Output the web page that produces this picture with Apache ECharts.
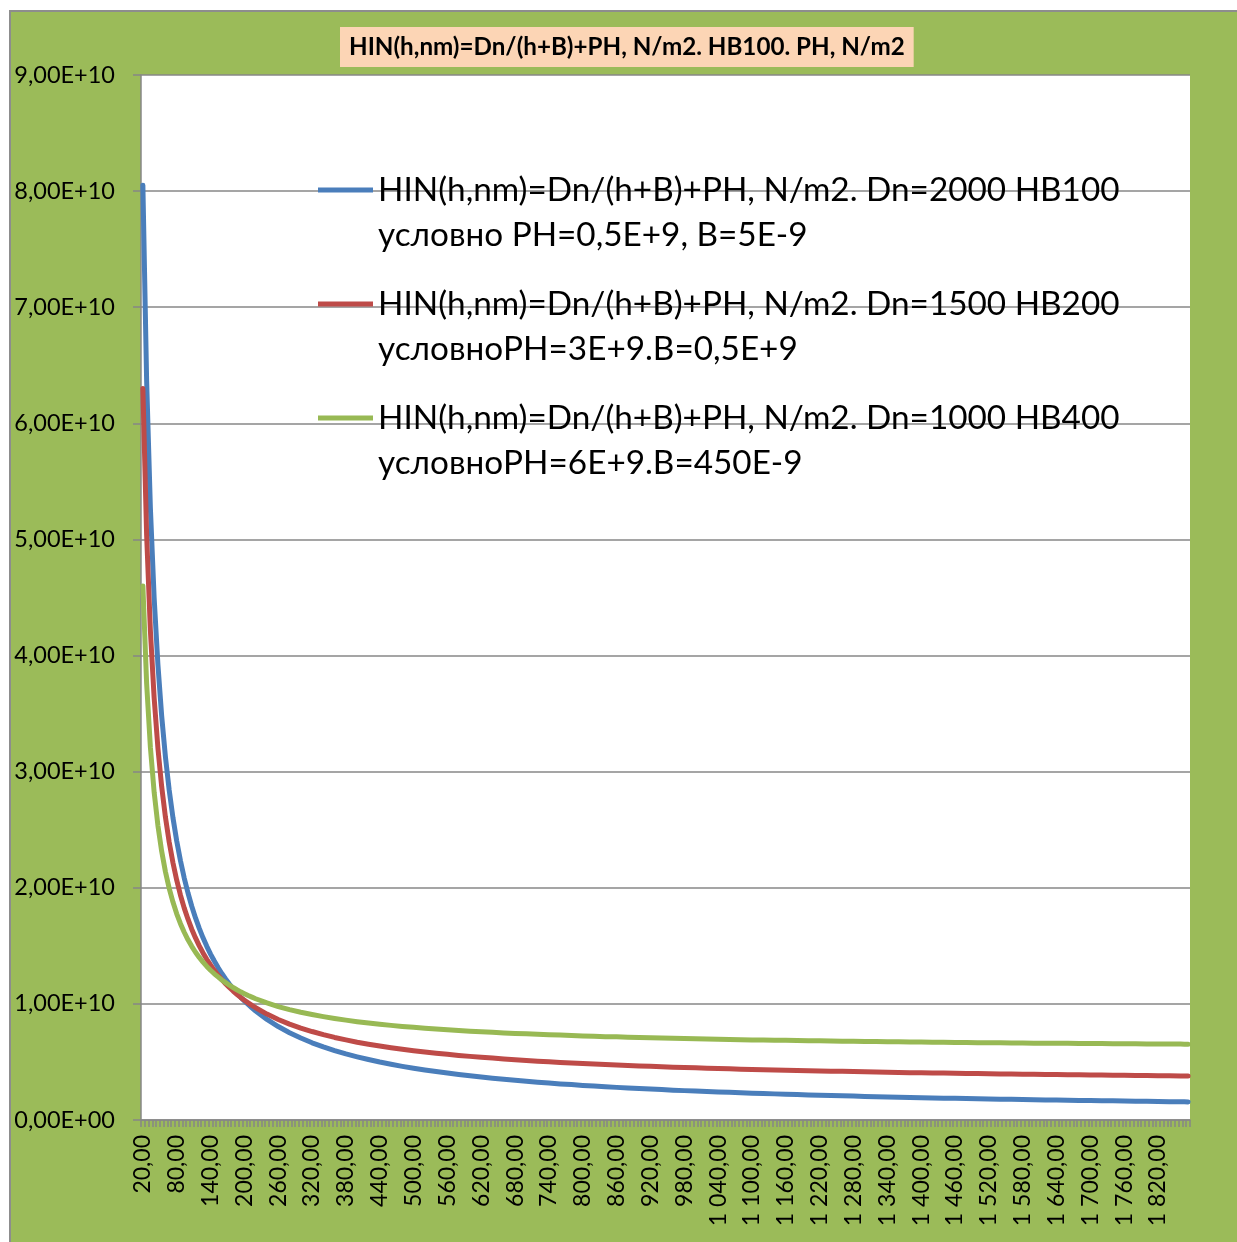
<!DOCTYPE html>
<html>
<head>
<meta charset="utf-8">
<script src="https://cdn.jsdelivr.net/npm/echarts@6/dist/echarts.min.js"></script>
<style>
html,body{margin:0;padding:0;background:#fff;}
#chart{width:1237px;height:1242px;}
</style>
</head>
<body>
<div id="chart"></div>
<script>
// Category axis: h, nm  (first = 20, step 20/3, 279 categories; labels every 9th)
const categoryCount = 279;
const firstH = 20;
const stepH = 20 / 3;
const tickLabels = ['20,00','80,00','140,00','200,00','260,00','320,00','380,00','440,00','500,00','560,00','620,00','680,00','740,00','800,00','860,00','920,00','980,00','1 040,00','1 100,00','1 160,00','1 220,00','1 280,00','1 340,00','1 400,00','1 460,00','1 520,00','1 580,00','1 640,00','1 700,00','1 760,00','1 820,00'];

// h values (nm) at which the curves were read
const sampleH = [20, 26.67, 33.33, 40, 46.67, 53.33, 60, 66.67, 73.33, 80, 86.67, 93.33, 100, 106.67, 113.33, 120, 126.67, 133.33, 140, 146.67, 153.33, 160, 166.67, 173.33, 180, 186.67, 193.33, 200, 206.67, 213.33, 220,
240,260,280,300,320,340,360,380,400,420,440,460,480,500,520,540,560,580,600,620,640,660,680,700,720,740,760,780,800,820,840,860,880,900,920,940,960,980,1000,1020,1040,1060,1080,1100,1120,1140,1160,1180,1200,1220,1240,1260,1280,1300,1320,1340,1360,1380,1400,1420,1440,1460,1480,1500,1520,1540,1560,1580,1600,1620,1640,1660,1680,1700,1720,1740,1760,1780,1800,1820,1840,1860,
1866.67, 1873.33];

// Values in units of 1E+9 N/m2
const blueValues = [80.50, 63.66, 52.67, 44.94, 39.21, 34.79, 31.27, 28.41, 26.03, 24.03, 22.32, 20.84, 19.55, 18.41, 17.40, 16.50, 15.69, 14.96, 14.29, 13.69, 13.13, 12.62, 12.15, 11.71, 11.31, 10.93, 10.58, 10.26, 9.95, 9.66, 9.39,
8.66, 8.05, 7.52, 7.06, 6.65, 6.30, 5.98, 5.69, 5.44, 5.21,
4.99, 4.80, 4.62, 4.46, 4.31, 4.17, 4.04, 3.92, 3.81, 3.70,
3.60, 3.51, 3.42, 3.34, 3.26, 3.18, 3.11, 3.05, 2.98, 2.92,
2.87, 2.81, 2.76, 2.71, 2.66, 2.62, 2.57, 2.53, 2.49, 2.45,
2.41, 2.38, 2.34, 2.31, 2.28, 2.25, 2.22, 2.19, 2.16, 2.13,
2.11, 2.08, 2.06, 2.03, 2.01, 1.99, 1.97, 1.94, 1.92, 1.90,
1.88, 1.87, 1.85, 1.83, 1.81, 1.79, 1.78, 1.76, 1.75, 1.73,
1.72, 1.70, 1.69, 1.67, 1.66, 1.65, 1.63, 1.62, 1.61, 1.60,
1.58, 1.57,
1.57, 1.56];

const redValues = [63.00, 50.37, 42.13, 36.33, 32.03, 28.71, 26.08, 23.93, 22.15, 20.65, 19.36, 18.25, 17.29, 16.43, 15.68, 15.00, 14.39, 13.84, 13.35, 12.89, 12.47, 12.09, 11.74, 11.41, 11.11, 10.83, 10.56, 10.32, 10.09, 9.87, 9.67,
9.12, 8.66, 8.26, 7.92, 7.62, 7.35, 7.11, 6.90, 6.70, 6.53,
6.37, 6.23, 6.09, 5.97, 5.86, 5.75, 5.66, 5.56, 5.48, 5.40,
5.33, 5.26, 5.19, 5.13, 5.07, 5.01, 4.96, 4.91, 4.86, 4.82,
4.77, 4.73, 4.70, 4.66, 4.62, 4.59, 4.55, 4.52, 4.49, 4.46,
4.44, 4.41, 4.38, 4.36, 4.33, 4.31, 4.29, 4.27, 4.25, 4.22,
4.20, 4.19, 4.17, 4.15, 4.13, 4.11, 4.10, 4.08, 4.07, 4.05,
4.04, 4.02, 4.01, 4.00, 3.98, 3.97, 3.96, 3.95, 3.93, 3.92,
3.91, 3.90, 3.89, 3.88, 3.87, 3.86, 3.85, 3.84, 3.83, 3.82,
3.81, 3.80,
3.80, 3.80];

const greenValues = [46.00, 37.58, 32.09, 28.22, 25.36, 23.14, 21.38, 19.95, 18.77, 17.76, 16.91, 16.17, 15.52, 14.96, 14.45, 14.00, 13.60, 13.23, 12.90, 12.59, 12.32, 12.06, 11.83, 11.61, 11.41, 11.22, 11.04, 10.88, 10.72, 10.58, 10.44,
10.08, 9.77, 9.51, 9.28, 9.08, 8.90, 8.74, 8.60, 8.47, 8.35,
8.25, 8.15, 8.06, 7.98, 7.90, 7.83, 7.77, 7.71, 7.65, 7.60,
7.55, 7.50, 7.46, 7.42, 7.38, 7.34, 7.31, 7.27, 7.24, 7.21,
7.18, 7.16, 7.13, 7.10, 7.08, 7.06, 7.04, 7.02, 7.00, 6.98,
6.96, 6.94, 6.92, 6.90, 6.89, 6.87, 6.86, 6.84, 6.83, 6.82,
6.80, 6.79, 6.78, 6.77, 6.76, 6.74, 6.73, 6.72, 6.71, 6.70,
6.69, 6.68, 6.67, 6.66, 6.66, 6.65, 6.64, 6.63, 6.62, 6.62,
6.61, 6.60, 6.59, 6.59, 6.58, 6.57, 6.57, 6.56, 6.55, 6.55,
6.54, 6.54,
6.53, 6.53];

const seriesNames = [
  'HIN(h,nm)=Dn/(h+B)+PH, N/m2. Dn=2000 HB100\nусловно PH=0,5E+9, B=5E-9',
  'HIN(h,nm)=Dn/(h+B)+PH, N/m2. Dn=1500 HB200\nусловноPH=3E+9.B=0,5E+9',
  'HIN(h,nm)=Dn/(h+B)+PH, N/m2. Dn=1000 HB400\nусловноPH=6E+9.B=450E-9'
];
const seriesColors = ['#4A7EBB', '#BE4B48', '#98B954'];
const titleText = 'HIN(h,nm)=Dn/(h+B)+PH, N/m2. HB100. PH, N/m2';

// ---- build category axis & series data ----
const categories = [];
for (let i = 0; i < categoryCount; i++) {
  categories.push(i % 9 === 0 ? tickLabels[i / 9] : String(firstH + i * stepH));
}
function toSeries(values) {
  const arr = new Array(categoryCount).fill(null);
  sampleH.forEach((h, k) => {
    const idx = Math.round((h - firstH) / stepH);
    arr[idx] = values[k];
  });
  return arr;
}
const allValues = [blueValues, redValues, greenValues];

const FONT = 'Lato, "Open Sans", sans-serif';
const GRIDC = '#878787';

const legendTops = [122.5, 236.5, 350.5];

const option = {
  animation: false,
  backgroundColor: '#ffffff',
  graphic: [
    {
      type: 'rect', z: -10, silent: true,
      shape: { x: 10, y: 11, width: 1240, height: 1240 },
      style: { fill: '#9BBB59', stroke: '#8d8d8d', lineWidth: 2 }
    }
  ],
  title: {
    text: titleText,
    left: 340, top: 27,
    padding: [8, 9, 8, 9],
    backgroundColor: '#FCD5B5',
    textStyle: { fontFamily: FONT, fontWeight: 'bold', fontSize: 24.2, color: '#000', lineHeight: 24 }
  },
  legend: seriesNames.map((n, i) => ({
    data: [n],
    left: 318,
    top: legendTops[i],
    icon: 'rect',
    itemWidth: 55,
    itemHeight: 5,
    padding: 0,
    selectedMode: false,
    formatter: name => '\n' + name,
    textStyle: { fontFamily: FONT, fontSize: 33.3, color: '#000', lineHeight: 45 }
  })),
  grid: {
    left: 141, top: 75, right: 47, bottom: 122,
    show: true, backgroundColor: '#ffffff', borderWidth: 0
  },
  xAxis: {
    type: 'category',
    data: categories,
    boundaryGap: true,
    axisLine: { show: true, lineStyle: { color: GRIDC, width: 1.5 } },
    axisTick: { show: true, interval: 0, length: 7, lineStyle: { color: GRIDC, width: 1.5 } },
    axisLabel: {
      interval: 8,
      rotate: 90,
      margin: 15,
      fontFamily: FONT, fontSize: 23, color: '#000'
    },
    splitLine: { show: false }
  },
  yAxis: {
    type: 'value',
    min: 0, max: 90, interval: 10,
    axisLine: { show: true, lineStyle: { color: GRIDC, width: 1.5 } },
    axisTick: { show: true, length: 8, lineStyle: { color: GRIDC, width: 1.5 } },
    axisLabel: {
      margin: 26,
      fontFamily: FONT, fontSize: 23.5, color: '#000',
      formatter: v => v === 0 ? '0,00E+00' : (v / 10).toFixed(2).replace('.', ',') + 'E+10'
    },
    splitLine: { show: true, lineStyle: { color: GRIDC, width: 1.5 } }
  },
  series: seriesNames.map((n, i) => ({
    name: n,
    type: 'line',
    data: toSeries(allValues[i]),
    connectNulls: true,
    symbol: 'none',
    smooth: false,
    lineStyle: { color: seriesColors[i], width: 5, cap: 'round', join: 'round' },
    itemStyle: { color: seriesColors[i] },
    emphasis: { disabled: true }
  }))
};

const chart = echarts.init(document.getElementById('chart'), null, { renderer: 'canvas' });
chart.setOption(option);
</script>
</body>
</html>
